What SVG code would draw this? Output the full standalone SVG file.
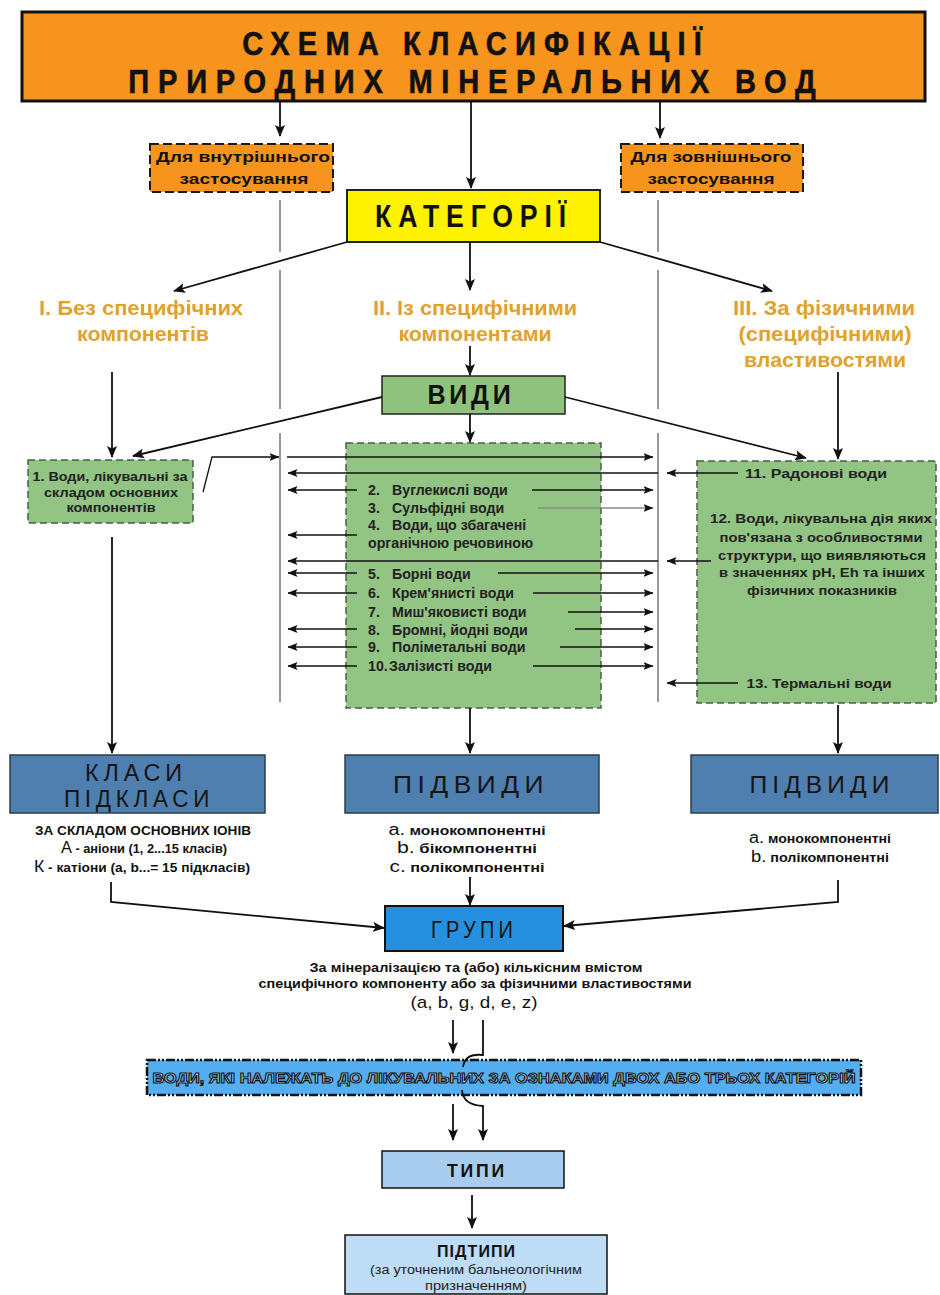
<svg xmlns="http://www.w3.org/2000/svg" width="940" height="1295" viewBox="0 0 940 1295">
  <defs>
    <marker id="ah" viewBox="0 0 12 10" refX="11" refY="5" markerWidth="12" markerHeight="10" markerUnits="userSpaceOnUse" orient="auto">
      <path d="M0,0 L12,5 L0,10 L2.5,5 z" fill="#111"/>
    </marker>
    <marker id="as" viewBox="0 0 10 8" refX="9.5" refY="4" markerWidth="10" markerHeight="8" markerUnits="userSpaceOnUse" orient="auto">
      <path d="M0,0 L10,4 L0,8 L2,4 z" fill="#111"/>
    </marker>
    <filter id="halo" x="-5%" y="-20%" width="110%" height="140%">
      <feGaussianBlur in="SourceAlpha" stdDeviation="1.2" result="b"/>
      <feFlood flood-color="#F3E2B8" flood-opacity="0.8"/>
      <feComposite in2="b" operator="in" result="g"/>
      <feMerge><feMergeNode in="g"/><feMergeNode in="SourceGraphic"/></feMerge>
    </filter>
    <style>
      text { font-family: "Liberation Sans", Arial, sans-serif; }
      .title-box { fill: #F7941D; stroke: #111; stroke-width: 3; }
      .title { font-size: 33px; font-weight: bold; fill: #111; text-anchor: middle; stroke: #111; stroke-width: 0.6; }
      .side { fill: #F7941D; stroke: #1a1a1a; stroke-width: 2; stroke-dasharray: 9 4; }
      .side-t { font-size: 15px; font-weight: bold; fill: #111; text-anchor: middle; }
      .cat { fill: #FFF200; stroke: #222; stroke-width: 2; }
      .big { font-weight: bold; fill: #111; text-anchor: middle; }
      .gold { font-size: 21px; font-weight: bold; fill: #E0A22A; text-anchor: middle; }
      .vidy { fill: #8EC27D; stroke: #222; stroke-width: 1.5; }
      .dg { fill: #92C483; stroke: #4c5c4a; stroke-width: 1.5; stroke-dasharray: 7 4; }
      .item { font-size: 14.2px; font-weight: bold; fill: #222; }
      .itemc { font-size: 13.5px; font-weight: bold; fill: #222; text-anchor: middle; }
      .steel { fill: #4F7FAF; stroke: #2c3c4c; stroke-width: 1.5; }
      .steel-t { font-size: 24px; fill: #151515; text-anchor: middle; letter-spacing: 5px; }
      .lbl { font-size: 12.5px; font-weight: bold; fill: #111; text-anchor: middle; }
      .lbl-big { font-size: 16px; font-weight: normal; }
      .grp { fill: #2590E0; stroke: #111; stroke-width: 2; }
      .long { fill: #55AEF0; stroke: #111; stroke-width: 2.5; stroke-dasharray: 9 2 2 2 2 2; }
      .long-t { font-size: 15px; font-weight: bold; fill: #A6D4F7; stroke: #111; stroke-width: 1.1; text-anchor: middle; }
      .typ { fill: #A8CCEE; stroke: #111; stroke-width: 1.5; }
      .ptyp { fill: #BEDCF6; stroke: #111; stroke-width: 1.5; }
      .conn { fill: none; stroke: #111; stroke-width: 1.8; }
      .thin { fill: none; stroke: #111; stroke-width: 1.3; }
      .thin-g { fill: none; stroke: #888; stroke-width: 1.3; }
      .div { fill: none; stroke: #777; stroke-width: 1.5; }
    </style>
  </defs>

  <!-- header: narrowed bold caps, spaced out to the box width -->
  <g id="title">
    <rect class="title-box" x="22" y="12" width="903" height="89"/>
    <text class="title" transform="translate(472,55) scale(0.88,1)" x="0" y="0" textLength="522">СХЕМА КЛАСИФІКАЦІЇ</text>
    <text class="title" transform="translate(472,93) scale(0.88,1)" x="0" y="0" textLength="781">ПРИРОДНИХ МІНЕРАЛЬНИХ ВОД</text>
  </g>

  <g id="internal-use">
    <rect class="side" x="150" y="144" width="183" height="48"/>
    <text class="side-t" x="243" y="162" textLength="174" lengthAdjust="spacingAndGlyphs">Для внутрішнього</text>
    <text class="side-t" x="244" y="184" textLength="129" lengthAdjust="spacingAndGlyphs">застосування</text>
  </g>

  <g id="external-use">
    <rect class="side" x="621" y="144" width="182" height="48"/>
    <text class="side-t" x="711" y="162" textLength="161" lengthAdjust="spacingAndGlyphs">Для зовнішнього</text>
    <text class="side-t" x="711" y="184" textLength="127" lengthAdjust="spacingAndGlyphs">застосування</text>
  </g>

  <g id="categories">
    <rect class="cat" x="347" y="190" width="253" height="52"/>
    <text class="big" x="474" y="227" font-size="31" letter-spacing="8" textLength="198" lengthAdjust="spacingAndGlyphs">КАТЕГОРІЇ</text>
  </g>

  <g id="cat-1" filter="url(#halo)">
    <text class="gold" x="141" y="315" textLength="204" lengthAdjust="spacingAndGlyphs">I. Без специфічних</text>
    <text class="gold" x="143" y="341" textLength="132" lengthAdjust="spacingAndGlyphs">компонентів</text>
  </g>
  <g id="cat-2" filter="url(#halo)">
    <text class="gold" x="475" y="315" textLength="204" lengthAdjust="spacingAndGlyphs">II. Із специфічними</text>
    <text class="gold" x="475" y="341" textLength="153" lengthAdjust="spacingAndGlyphs">компонентами</text>
  </g>
  <g id="cat-3" filter="url(#halo)">
    <text class="gold" x="824" y="315" textLength="182" lengthAdjust="spacingAndGlyphs">III. За фізичними</text>
    <text class="gold" x="825" y="341" textLength="173" lengthAdjust="spacingAndGlyphs">(специфічними)</text>
    <text class="gold" x="825" y="367" textLength="162" lengthAdjust="spacingAndGlyphs">властивостями</text>
  </g>

  <g id="kinds">
    <rect class="vidy" x="382" y="376" width="183" height="38"/>
    <text class="big" x="471" y="404" font-size="27" letter-spacing="4" textLength="87" lengthAdjust="spacingAndGlyphs">ВИДИ</text>
  </g>

  <g id="kind-1">
    <rect class="dg" x="28" y="460" width="165" height="63"/>
    <text class="itemc" x="110" y="481" textLength="155" lengthAdjust="spacingAndGlyphs">1. Води, лікувальні за</text>
    <text class="itemc" x="111" y="497" textLength="134" lengthAdjust="spacingAndGlyphs">складом основних</text>
    <text class="itemc" x="111" y="512" textLength="89" lengthAdjust="spacingAndGlyphs">компонентів</text>
  </g>

  <g id="kinds-2-10">
    <rect class="dg" x="346" y="443" width="255" height="265"/>
    <text class="item" y="495"><tspan x="368">2.</tspan><tspan x="392">Вуглекислі води</tspan></text>
    <text class="item" y="513"><tspan x="368">3.</tspan><tspan x="392">Сульфідні води</tspan></text>
    <text class="item" y="530"><tspan x="368">4.</tspan><tspan x="392">Води, що збагачені</tspan></text>
    <text class="item" x="368" y="548">органічною речовиною</text>
    <text class="item" y="579"><tspan x="368">5.</tspan><tspan x="392">Борні води</tspan></text>
    <text class="item" y="598"><tspan x="368">6.</tspan><tspan x="392">Крем'янисті води</tspan></text>
    <text class="item" y="617"><tspan x="368">7.</tspan><tspan x="392">Миш'яковисті води</tspan></text>
    <text class="item" y="635"><tspan x="368">8.</tspan><tspan x="392">Бромні, йодні води</tspan></text>
    <text class="item" y="652"><tspan x="368">9.</tspan><tspan x="392">Поліметальні води</tspan></text>
    <text class="item" y="671"><tspan x="368">10.</tspan><tspan x="389">Залізисті води</tspan></text>
  </g>

  <g id="kinds-11-13">
    <rect class="dg" x="697" y="461" width="239" height="242"/>
    <text class="itemc" x="816" y="478" textLength="142" lengthAdjust="spacingAndGlyphs">11. Радонові  води</text>
    <text class="itemc" x="821" y="523" textLength="222" lengthAdjust="spacingAndGlyphs">12. Води, лікувальна дія яких</text>
    <text class="itemc" x="821" y="542" textLength="203" lengthAdjust="spacingAndGlyphs">пов'язана з особливостями</text>
    <text class="itemc" x="822" y="560" textLength="208" lengthAdjust="spacingAndGlyphs">структури, що виявляються</text>
    <text class="itemc" x="822" y="577" textLength="206" lengthAdjust="spacingAndGlyphs">в значеннях pH, Eh та інших</text>
    <text class="itemc" x="822" y="595" textLength="150" lengthAdjust="spacingAndGlyphs">фізичних показників</text>
    <text class="itemc" x="819" y="688" textLength="145" lengthAdjust="spacingAndGlyphs">13. Термальні води</text>
  </g>

  <g id="classes">
    <rect class="steel" x="10" y="755" width="255" height="58"/>
    <text class="steel-t" x="136" y="781" font-size="23" textLength="102" lengthAdjust="spacingAndGlyphs">КЛАСИ</text>
    <text class="steel-t" x="139" y="807" font-size="23" textLength="150" lengthAdjust="spacingAndGlyphs">ПІДКЛАСИ</text>
    <text class="lbl" x="143" y="835" textLength="216" lengthAdjust="spacingAndGlyphs">ЗА СКЛАДОМ ОСНОВНИХ ІОНІВ</text>
    <text class="lbl" x="144" y="853" textLength="166" lengthAdjust="spacingAndGlyphs"><tspan class="lbl-big">А</tspan> - аніони (1, 2...15 класів)</text>
    <text class="lbl" x="142" y="872" textLength="216" lengthAdjust="spacingAndGlyphs"><tspan class="lbl-big">К</tspan> - катіони (a, b...= 15 підкласів)</text>
  </g>

  <g id="subkinds-2">
    <rect class="steel" x="345" y="755" width="254" height="58"/>
    <text class="steel-t" x="471" y="793" textLength="156" lengthAdjust="spacingAndGlyphs">ПІДВИДИ</text>
    <text class="lbl" x="467" y="835" textLength="157" lengthAdjust="spacingAndGlyphs"><tspan class="lbl-big">a.</tspan> монокомпонентні</text>
    <text class="lbl" x="467" y="853" textLength="140" lengthAdjust="spacingAndGlyphs"><tspan class="lbl-big">b.</tspan> бікомпонентні</text>
    <text class="lbl" x="467" y="872" textLength="155" lengthAdjust="spacingAndGlyphs"><tspan class="lbl-big">c.</tspan> полікомпонентні</text>
  </g>

  <g id="subkinds-3">
    <rect class="steel" x="691" y="755" width="247" height="58"/>
    <text class="steel-t" x="822" y="793" textLength="145" lengthAdjust="spacingAndGlyphs">ПІДВИДИ</text>
    <text class="lbl" x="820" y="843" textLength="142" lengthAdjust="spacingAndGlyphs"><tspan class="lbl-big">a.</tspan> монокомпонентні</text>
    <text class="lbl" x="820" y="862" textLength="138" lengthAdjust="spacingAndGlyphs"><tspan class="lbl-big">b.</tspan> полікомпонентні</text>
  </g>

  <g id="groups">
    <rect class="grp" x="385" y="906" width="178" height="45"/>
    <text class="steel-t" x="474" y="938" font-size="22" letter-spacing="6" textLength="86" lengthAdjust="spacingAndGlyphs">ГРУПИ</text>
    <text class="lbl" x="476" y="972" textLength="333" lengthAdjust="spacingAndGlyphs">За мінералізацією та (або) кількісним вмістом</text>
    <text class="lbl" x="475" y="988" textLength="433" lengthAdjust="spacingAndGlyphs">специфічного компоненту або за фізичними властивостями</text>
    <text x="474" y="1008" font-size="17" fill="#111" text-anchor="middle" textLength="127" lengthAdjust="spacingAndGlyphs">(a, b, g, d, e, z)</text>
  </g>

  <g id="multi-category">
    <rect class="long" x="147" y="1060" width="714" height="35"/>
    <text class="long-t" x="504" y="1083" textLength="703" lengthAdjust="spacingAndGlyphs">ВОДИ, ЯКІ НАЛЕЖАТЬ ДО ЛІКУВАЛЬНИХ ЗА ОЗНАКАМИ ДВОХ АБО ТРЬОХ КАТЕГОРІЙ</text>
  </g>

  <g id="types">
    <rect class="typ" x="382" y="1151" width="182" height="37"/>
    <text class="big" x="477" y="1177" font-size="19" letter-spacing="3" textLength="60" lengthAdjust="spacingAndGlyphs">ТИПИ</text>
  </g>

  <g id="subtypes">
    <rect class="ptyp" x="345" y="1235" width="262" height="59"/>
    <text class="big" x="476" y="1257" font-size="16" textLength="78">ПІДТИПИ</text>
    <text x="476" y="1274" font-size="12.5" fill="#222" text-anchor="middle" textLength="212" lengthAdjust="spacingAndGlyphs">(за уточненим бальнеологічним</text>
    <text x="476" y="1290" font-size="12.5" fill="#222" text-anchor="middle" textLength="102" lengthAdjust="spacingAndGlyphs">призначенням)</text>
  </g>

  <g id="connectors">
    <!-- divider lines, broken where arrows cross -->
    <path class="div" d="M280,200 V252 M280,270 V409 M280,433 V702"/>
    <path class="div" d="M658,200 V252 M658,270 V409 M658,433 V702"/>

    <!-- header arrows -->
    <path class="conn" d="M280,101 V136" marker-end="url(#ah)"/>
    <path class="conn" d="M471,101 V188" marker-end="url(#ah)"/>
    <path class="conn" d="M660,101 V138" marker-end="url(#ah)"/>

    <!-- category arrows -->
    <path class="conn" d="M347,242 L174,291" marker-end="url(#ah)"/>
    <path class="conn" d="M470,242 V290" marker-end="url(#ah)"/>
    <path class="conn" d="M600,242 L772,291" marker-end="url(#ah)"/>

    <!-- kinds arrows -->
    <path class="conn" d="M470,346 V375" marker-end="url(#ah)"/>
    <path class="conn" d="M382,397 L133,456" marker-end="url(#ah)"/>
    <path class="conn" d="M470,414 V442" marker-end="url(#ah)"/>
    <path class="conn" d="M565,397 L806,458" marker-end="url(#ah)"/>
    <path class="conn" d="M112,372 V457" marker-end="url(#ah)"/>
    <path class="conn" d="M838,372 V459" marker-end="url(#ah)"/>

    <!-- kind 1 link -->
    <path class="thin" d="M203,492 L212,457 H279" marker-end="url(#as)"/>

    <!-- cross links between kind lists -->
    <path class="thin" d="M287,457 H653" marker-end="url(#as)"/>
    <path class="thin" d="M658,473 H288" marker-end="url(#as)"/>
    <path class="thin" d="M738,473 H667" marker-end="url(#as)"/>
    <path class="thin" d="M357,490 H288" marker-end="url(#as)"/>
    <path class="thin" d="M532,490 H653" marker-end="url(#as)"/>
    <path class="thin-g" d="M538,508 H653" marker-end="url(#as)"/>
    <path class="thin" d="M357,535 H288" marker-end="url(#as)"/>
    <path class="thin" d="M658,561 H288" marker-end="url(#as)"/>
    <path class="thin" d="M711,561 H667" marker-end="url(#as)"/>
    <path class="thin" d="M357,573 H288" marker-end="url(#as)"/>
    <path class="thin" d="M498,573 H653" marker-end="url(#as)"/>
    <path class="thin" d="M357,593 H288" marker-end="url(#as)"/>
    <path class="thin" d="M533,593 H653" marker-end="url(#as)"/>
    <path class="thin" d="M568,612 H653" marker-end="url(#as)"/>
    <path class="thin" d="M357,629 H288" marker-end="url(#as)"/>
    <path class="thin" d="M575,629 H653" marker-end="url(#as)"/>
    <path class="thin" d="M357,647 H288" marker-end="url(#as)"/>
    <path class="thin" d="M560,647 H653" marker-end="url(#as)"/>
    <path class="thin" d="M357,666 H288" marker-end="url(#as)"/>
    <path class="thin" d="M533,666 H653" marker-end="url(#as)"/>
    <path class="thin" d="M738,683 H667" marker-end="url(#as)"/>

    <!-- down to classes / subkinds -->
    <path class="conn" d="M112,537 V753" marker-end="url(#ah)"/>
    <path class="conn" d="M470,708 V753" marker-end="url(#ah)"/>
    <path class="conn" d="M838,705 V753" marker-end="url(#ah)"/>

    <!-- to groups -->
    <path class="conn" d="M111,882 V902 L384,928" marker-end="url(#ah)"/>
    <path class="conn" d="M470,877 V905" marker-end="url(#ah)"/>
    <path class="conn" d="M838,880 V902 L564,926" marker-end="url(#ah)"/>

    <!-- through the multi-category band -->
    <path class="conn" d="M453,1020 V1053" marker-end="url(#ah)"/>
    <path class="conn" d="M483,1020 V1055 Q465,1053 463,1067"/>
    <path class="conn" d="M462,1090 Q463,1105 483,1106 V1140" marker-end="url(#ah)"/>
    <path class="conn" d="M453,1104 V1140" marker-end="url(#ah)"/>

    <!-- types to subtypes -->
    <path class="conn" d="M472,1195 V1228" marker-end="url(#ah)"/>
  </g>
</svg>
